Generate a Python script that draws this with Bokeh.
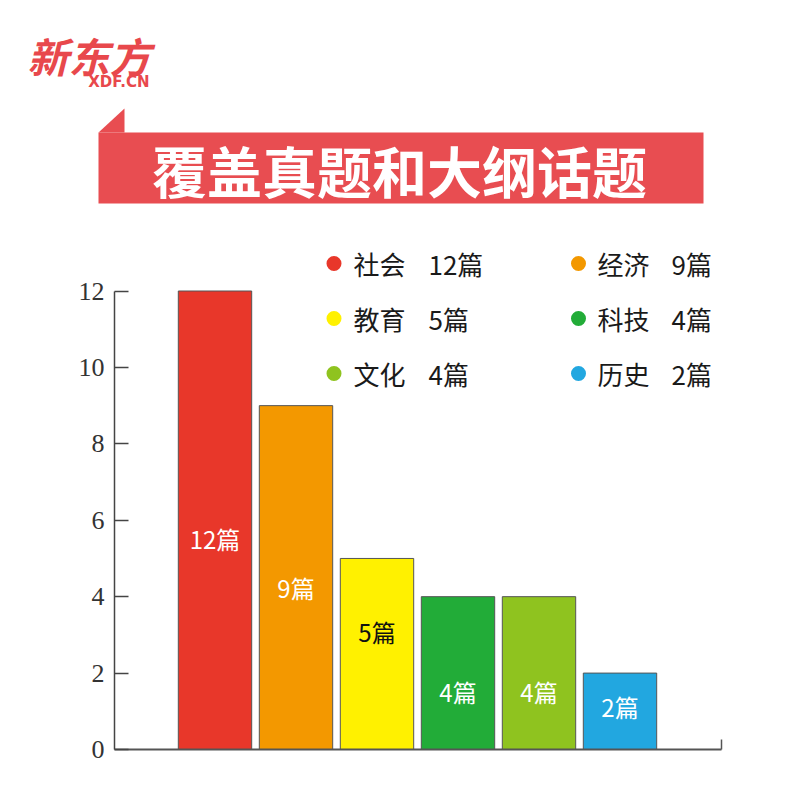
from bokeh.plotting import figure
from bokeh.models import Range1d, FixedTicker, ColumnDataSource
from bokeh.layouts import column
from bokeh.embed import file_html
from bokeh.resources import INLINE
from bokeh.core.properties import value

# ---- data ----
categories = ["社会", "经济", "教育", "科技", "文化", "历史"]
counts = [12, 9, 5, 4, 4, 2]
unit = "篇"
y_ticks = [0, 2, 4, 6, 8, 10, 12]
title_text = "覆盖真题和大纲话题"
logo_text = "新东方"
logo_sub = "XDF.CN"

# ---- styles ----
bar_colors = ["#E8372A", "#F39800", "#FFF100", "#22AC38", "#8FC31F", "#22A7E0"]
label_colors = ["white", "white", "#111111", "white", "white", "white"]
label_frac = [0.46, 0.47, 0.62, 0.38, 0.38, 0.56]   # label height as share of bar
BANNER = "#E84D51"
LOGO = "#E8484C"
CJK = "Noto Sans CJK SC"

OFF = 0      # page offset of the layout
W = 784
TOP_H = 222
BOT_H = 562

# ---------------- header (logo + banner) ----------------
top = figure(width=W, height=TOP_H, x_range=Range1d(OFF, OFF + W),
             y_range=Range1d(OFF + TOP_H, OFF), output_backend="svg",
             toolbar_location=None, x_axis_type=None, y_axis_type=None,
             min_border=0, outline_line_color=None)
top.grid.visible = False
top.frame_align = False

top.quad(left=98, right=703, top=132, bottom=203, fill_color=BANNER, line_color=None)
top.patch(x=[98, 124, 124], y=[132, 108, 132], fill_color=BANNER, line_color=None)
top.text(x=[399], y=[168], text=[title_text], text_font=value(CJK),
         text_font_style="bold", text_font_size="55px", text_color="white",
         text_align="center", text_baseline="middle")
top.text(x=[27], y=[54], text=[logo_text], text_font=value(CJK),
         text_font_style="bold italic", text_font_size="41px", text_color=LOGO,
         text_align="left", text_baseline="middle")
top.text(x=[149], y=[81], text=[logo_sub], text_font=value("DejaVu Sans"),
         text_font_style="bold", text_font_size="15px", text_color=LOGO,
         text_align="right", text_baseline="middle")

# ---------------- chart ----------------
fx0, fx1 = 114, 721          # page px of frame left / right
fy_top, fy_bot = OFF + TOP_H, 749    # page px of frame top / bottom
bar_c0, bar_step = 214.5, 81.0
px_per_unit = (749 - 290.5) / 12.0

x0 = (fx0 - bar_c0) / bar_step
x1 = (fx1 - bar_c0) / bar_step
ytop = (fy_bot - fy_top) / px_per_unit

def dx(px):
    return (px - bar_c0) / bar_step

def dy(py):
    return (fy_bot - py) / px_per_unit

bot = figure(width=W, height=BOT_H, x_range=Range1d(x0, x1), y_range=Range1d(0, ytop),
             output_backend="svg", toolbar_location=None,
             min_border_left=fx0 - OFF, min_border_right=OFF + W - fx1,
             min_border_top=0, min_border_bottom=(OFF + TOP_H + BOT_H) - fy_bot,
             outline_line_color=None)
bot.grid.visible = False
bot.frame_align = False

ya = bot.yaxis[0]
ya.ticker = FixedTicker(ticks=y_ticks)
ya.bounds = (0, 12)
ya.major_tick_in = 14
ya.major_tick_out = 0
ya.minor_tick_in = 0
ya.minor_tick_out = 0
ya.major_label_standoff = 10
ya.axis_line_color = "#444444"
ya.axis_line_width = 1.5
ya.major_tick_line_color = "#444444"
ya.major_tick_line_width = 1.5
ya.major_label_text_font = "Liberation Serif"
ya.major_label_text_font_size = "26px"
ya.major_label_text_color = "#333333"

xa = bot.xaxis[0]
xa.ticker = FixedTicker(ticks=[x1 - 0.002])
xa.major_tick_in = 10
xa.major_tick_out = 0
xa.minor_tick_in = 0
xa.minor_tick_out = 0
xa.major_label_text_color = None
xa.axis_line_color = "#555555"
xa.axis_line_width = 2
xa.major_tick_line_color = "#555555"
xa.major_tick_line_width = 1.5

src = ColumnDataSource(dict(
    x=list(range(len(categories))),
    top=counts,
    color=bar_colors,
    label=[f"{c}{unit}" for c in counts],
    label_y=[c * f for c, f in zip(counts, label_frac)],
    label_color=label_colors,
))
bot.vbar(x="x", top="top", bottom=0, width=73.4 / bar_step, fill_color="color",
         line_color="#555555", line_width=1, source=src)
bot.text(x="x", y="label_y", text="label", text_color="label_color",
         text_align="center", text_baseline="middle", text_font=value(CJK),
         text_font_size="24px", source=src)

# legend (two columns, three rows)
dot_px = [333.5, 578]
name_px = [353, 597]
count_px = [428, 671]
row_py = [263, 318, 373]
cols = [i % 2 for i in range(len(categories))]
rows = [i // 2 for i in range(len(categories))]
leg = ColumnDataSource(dict(
    dot_x=[dx(dot_px[c]) for c in cols],
    name_x=[dx(name_px[c]) for c in cols],
    count_x=[dx(count_px[c]) for c in cols],
    y=[dy(row_py[r]) for r in rows],
    name=categories,
    cnt=[f"{c}{unit}" for c in counts],
    color=bar_colors,
))
bot.scatter(x="dot_x", y="y", size=15, fill_color="color", line_color=None, source=leg)
bot.text(x="name_x", y="y", text="name", text_font=value(CJK), text_font_size="26px",
         text_color="#1A1A1A", text_align="left", text_baseline="middle", source=leg)
bot.text(x="count_x", y="y", text="cnt", text_font=value(CJK), text_font_size="26px",
         text_color="#1A1A1A", text_align="left", text_baseline="middle", source=leg)

layout = column(top, bot, spacing=0)
open("out.html", "w").write(file_html(layout, INLINE, "chart"))
